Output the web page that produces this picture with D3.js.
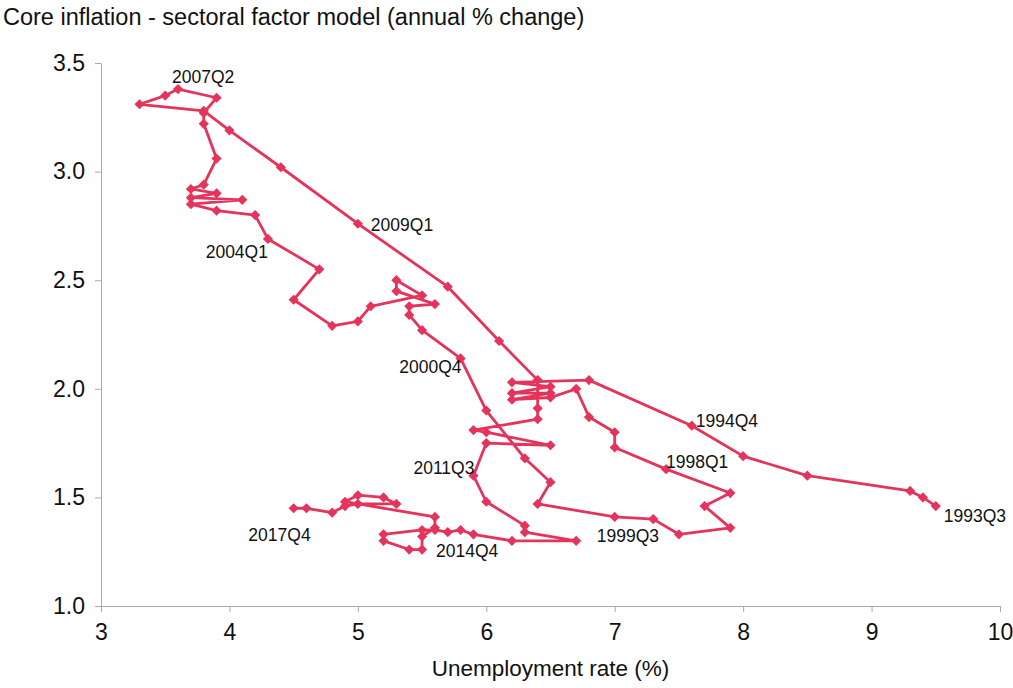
<!DOCTYPE html>
<html>
<head>
<meta charset="utf-8">
<script src="https://cdn.jsdelivr.net/npm/d3@7"></script>
<style>
  body { margin: 0; background: #fff; }
  svg { font-family: "Liberation Sans", Arial, Helvetica, sans-serif; }
</style>
</head>
<body>
<div id="chart"></div>
<script>
// unemployment rate (%) and core inflation (%), in time order from 1993Q3 to 2017Q4
const unemployment = [
  9.5, 9.4, 9.3, 8.5, 8.0, 7.6, 6.8, 6.2, 6.5, 6.2,
  6.5, 6.2, 6.5, 6.7, 6.8, 7.0, 7.0, 7.4, 7.9, 7.7,
  7.9, 7.5, 7.3, 7.0, 6.4, 6.5, 6.3, 6.0, 5.8, 5.5,
  5.4, 5.4, 5.6, 5.3, 5.3, 5.5, 5.1, 5.0, 4.8, 4.5,
  4.7, 4.3, 4.2, 3.9, 3.7, 4.1, 3.7, 3.9, 3.7, 3.8,
  3.9, 3.8, 3.8, 3.9, 3.6, 3.5, 3.3, 3.8, 4.0, 4.4,
  5.0, 5.7, 6.1, 6.4, 6.4, 6.4, 5.9, 6.0, 6.5, 6.0,
  5.9, 6.0, 6.3, 6.3, 6.7, 6.2, 5.9, 5.8, 5.7, 5.6,
  5.5, 5.2, 5.2, 5.4, 5.5, 5.5, 5.6, 5.6, 4.9, 5.0,
  5.2, 5.3, 5.0, 4.9, 4.8, 4.6, 4.5
];
const coreInflation = [
  1.46, 1.50, 1.53, 1.60, 1.69, 1.83, 2.04, 2.03, 2.01, 1.98,
  1.98, 1.95, 1.96, 2.00, 1.87, 1.80, 1.73, 1.63, 1.52, 1.46,
  1.36, 1.33, 1.40, 1.41, 1.47, 1.57, 1.68, 1.90, 2.14, 2.27,
  2.34, 2.38, 2.39, 2.45, 2.50, 2.43, 2.38, 2.31, 2.29, 2.41,
  2.55, 2.69, 2.80, 2.82, 2.85, 2.87, 2.88, 2.90, 2.92, 2.94,
  3.06, 3.22, 3.27, 3.34, 3.38, 3.35, 3.31, 3.28, 3.19, 3.02,
  2.76, 2.47, 2.22, 2.04, 1.91, 1.86, 1.81, 1.80, 1.74, 1.75,
  1.60, 1.48, 1.37, 1.34, 1.30, 1.30, 1.33, 1.35, 1.34, 1.35,
  1.35, 1.33, 1.30, 1.26, 1.26, 1.32, 1.36, 1.41, 1.48, 1.51,
  1.50, 1.47, 1.47, 1.46, 1.43, 1.45, 1.45
];
// labelled quarters and the index of their point
const labelQuarters = ["1993Q3", "1994Q4", "1998Q1", "1999Q3", "2000Q4", "2004Q1", "2007Q2", "2009Q1", "2011Q3", "2014Q4", "2017Q4"];
const labelIndex = [0, 5, 17, 23, 28, 41, 54, 60, 70, 84, 96];
const xTicks = [3, 4, 5, 6, 7, 8, 9, 10];
const yTicks = [1.0, 1.5, 2.0, 2.5, 3.0, 3.5];

const width = 1013, height = 688;
const red = "#e5345c";

const data = unemployment.map((u, i) => ({ x: u, y: coreInflation[i] }));

const svg = d3.select("#chart").append("svg")
  .attr("width", width).attr("height", height);

const x = d3.scaleLinear().domain([3, 10]).range([101, 1000]);
const y = d3.scaleLinear().domain([1, 3.5]).range([606, 63]);

// title
svg.append("text")
  .attr("x", 3).attr("y", 25)
  .style("font-size", "23.5px").style("fill", "#111")
  .text("Core inflation - sectoral factor model (annual % change)");

// axes
const yAxis = svg.append("g")
  .attr("transform", `translate(${x.range()[0]},0)`)
  .call(d3.axisLeft(y).tickValues(yTicks).tickFormat(d3.format(".1f")).tickSizeOuter(0).tickSize(6).tickPadding(10));
const xAxis = svg.append("g")
  .attr("transform", `translate(0,${y.range()[0]})`)
  .call(d3.axisBottom(x).tickValues(xTicks).tickFormat(d3.format("d")).tickSizeOuter(0).tickSize(6).tickPadding(12));

[xAxis, yAxis].forEach(g => {
  g.select(".domain").attr("stroke", "#aaa");
  g.selectAll(".tick line").attr("stroke", "#aaa");
  g.selectAll(".tick text").style("font-size", "23px").style("fill", "#111").attr("font-family", null);
});

svg.append("text")
  .attr("x", (x.range()[0] + x.range()[1]) / 2).attr("y", 676)
  .attr("text-anchor", "middle")
  .style("font-size", "22.5px").style("fill", "#111")
  .text("Unemployment rate (%)");

// connected path
const line = d3.line().x(d => x(d.x)).y(d => y(d.y));
svg.append("path")
  .datum(data)
  .attr("d", line)
  .attr("fill", "none")
  .attr("stroke", red)
  .attr("stroke-width", 2.8)
  .attr("stroke-linejoin", "round");

svg.selectAll(".pt")
  .data(data)
  .enter()
  .append("path")
  .attr("class", "pt")
  .attr("d", d3.symbol(d3.symbolSquare, 52))
  .attr("transform", d => `translate(${x(d.x)},${y(d.y)}) rotate(45)`)
  .attr("fill", red);

// label placement relative to its point: dx, dy, anchor
const labelPlace = {
  "1993Q3": [8, 16, "start"],
  "1994Q4": [4, 1, "start"],
  "1998Q1": [0, -1, "start"],
  "1999Q3": [-18, 25, "start"],
  "2000Q4": [1, 15, "end"],
  "2004Q1": [0, 19, "end"],
  "2007Q2": [-6, -6, "start"],
  "2009Q1": [13, 7, "start"],
  "2011Q3": [1, -2, "end"],
  "2014Q4": [14, 7, "start"],
  "2017Q4": [17, 33, "end"]
};

svg.selectAll(".lbl")
  .data(labelQuarters)
  .enter()
  .append("text")
  .attr("class", "lbl")
  .attr("x", (q, i) => x(data[labelIndex[i]].x) + labelPlace[q][0])
  .attr("y", (q, i) => y(data[labelIndex[i]].y) + labelPlace[q][1])
  .attr("text-anchor", q => labelPlace[q][2])
  .style("font-size", "17.5px")
  .style("fill", "#111")
  .text(q => q);
</script>
</body>
</html>
